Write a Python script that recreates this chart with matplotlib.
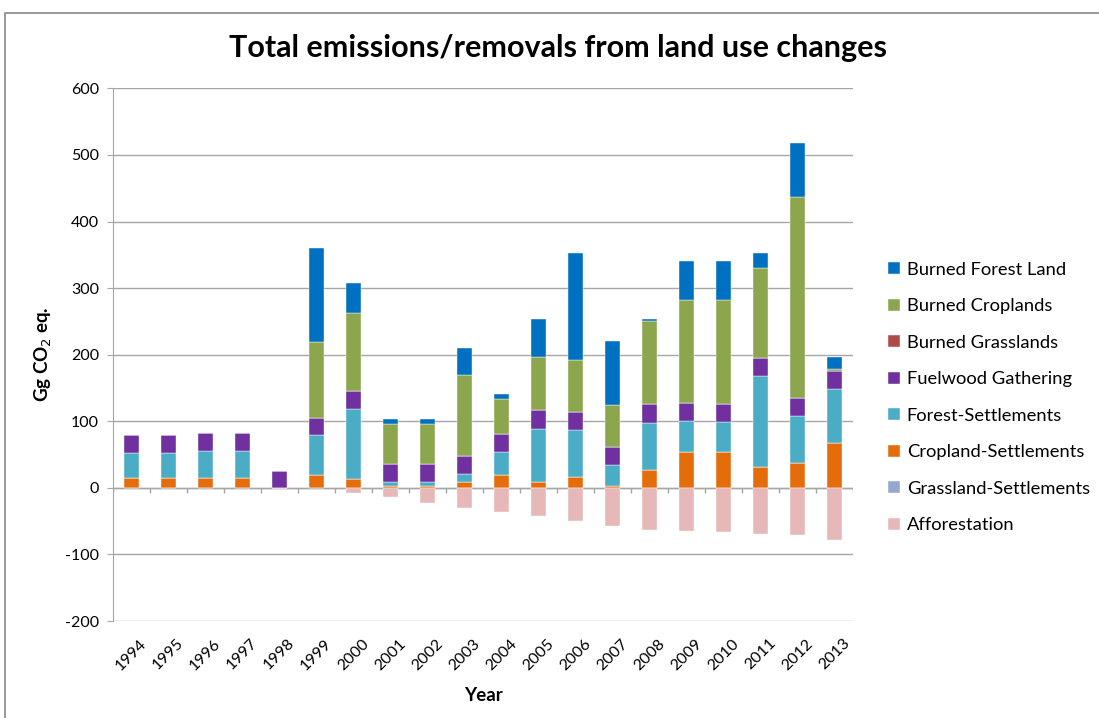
import numpy as np
import matplotlib
matplotlib.use("Agg")
import matplotlib.pyplot as plt
from matplotlib.patches import Rectangle

plt.rcParams['font.family'] = ['Lato', 'DejaVu Sans']
plt.rcParams['axes.unicode_minus'] = False

years = [str(y) for y in range(1994, 2014)]

# values, Gg CO2 eq.
cropland_settlements = [15, 15, 15, 15, 0, 19, 14, 3.5, 3.5, 8.5, 20, 8.5, 17, 2.5, 27.5, 54, 54, 31, 37.6, 67]
grassland_settlements = [0] * 20
forest_settlements = [38, 38, 40, 40, 0, 60, 104, 6, 6, 12.5, 34.6, 80, 70, 32.5, 70, 46.7, 45, 137, 70, 82]
fuelwood = [27, 27, 27, 27, 26, 25.5, 27, 26.5, 26.5, 27, 27, 28.6, 27, 27, 28.5, 27, 27.3, 27, 27, 27]
burned_grasslands = [0] * 20
burned_croplands = [0, 0, 0, 0, 0, 114, 117, 60, 60, 121, 52, 79, 78, 62, 125, 155, 155.3, 135, 302, 2.5]
burned_forest = [0, 0, 0, 0, 0, 141, 45, 8, 8, 41.5, 7, 57, 161, 96.5, 3, 58, 59.4, 22, 81, 18]
afforestation = [0, 0, 0, 0, 0, 0, -8, -14, -22, -30, -36, -42, -49, -57, -63, -64, -66, -69, -71, -79]

series = [
    ("Cropland-Settlements", cropland_settlements, "#E46C0A"),
    ("Grassland-Settlements", grassland_settlements, "#95A9D0"),
    ("Forest-Settlements", forest_settlements, "#4BACC6"),
    ("Fuelwood Gathering", fuelwood, "#7030A0"),
    ("Burned Grasslands", burned_grasslands, "#B04A48"),
    ("Burned Croplands", burned_croplands, "#8BA64C"),
    ("Burned Forest Land", burned_forest, "#0070C0"),
]

fig = plt.figure(figsize=(10.99, 7.18), dpi=100)
ax = fig.add_axes([0.1028, 0.135, 0.6733, 0.742])

x = np.arange(len(years))
w = 0.41
bottom = np.zeros(len(years))
handles = {}
for name, vals, col in series:
    vals = np.array(vals, dtype=float)
    handles[name] = ax.bar(x, vals, w, bottom=bottom, color=col, edgecolor='white',
                           linewidth=0.3, zorder=3, label=name)
    bottom += vals
handles["Afforestation"] = ax.bar(x, afforestation, w, color="#E6B8B7", edgecolor='white',
                                  linewidth=0.3, zorder=3, label="Afforestation")

ax.set_xlim(-0.5, len(years) - 0.5)
ax.set_ylim(-200, 600)
ax.set_yticks(np.arange(-200, 601, 100))
ax.yaxis.grid(True, color='#A6A6A6', linewidth=1.0, zorder=0)
ax.set_axisbelow(True)
for s in ['top', 'right', 'bottom']:
    ax.spines[s].set_visible(False)
ax.spines['left'].set_color('#A6A6A6')
ax.axhline(0, color='#A6A6A6', linewidth=1.0, zorder=2)
ax.vlines(np.arange(len(years) + 1) - 0.5, -8, 0, color='#A6A6A6', linewidth=1.0, zorder=2)

ax.set_xticks(x)
ax.set_xticklabels(years, rotation=45, fontsize=11.5)
ax.tick_params(axis='x', length=0, pad=11)
ax.tick_params(axis='y', length=4, color='#A6A6A6', labelsize=11.5, pad=6)

ax.set_xlabel("Year", fontsize=13.5, fontweight='bold', labelpad=10)
ax.set_ylabel("Gg CO$_2$ eq.", fontsize=13.5, fontweight='bold', labelpad=8)

fig.text(0.508, 0.933, "Total emissions/removals from land use changes",
         ha='center', va='center', fontsize=22, fontweight='bold')

order = ["Burned Forest Land", "Burned Croplands", "Burned Grasslands", "Fuelwood Gathering",
         "Forest-Settlements", "Cropland-Settlements", "Grassland-Settlements", "Afforestation"]
fig.legend([handles[n] for n in order], order, loc='center left',
           bbox_to_anchor=(0.8, 0.4464), bbox_transform=fig.transFigure,
           frameon=False, fontsize=13.2, handlelength=0.65, handleheight=0.65,
           handletextpad=0.35, labelspacing=1.12, borderpad=0)

fig.add_artist(Rectangle((0.005, -0.01), 1.2, 0.992, transform=fig.transFigure,
                         fill=False, edgecolor='#888888', linewidth=1.2))

fig.savefig("out.png", dpi=100)
